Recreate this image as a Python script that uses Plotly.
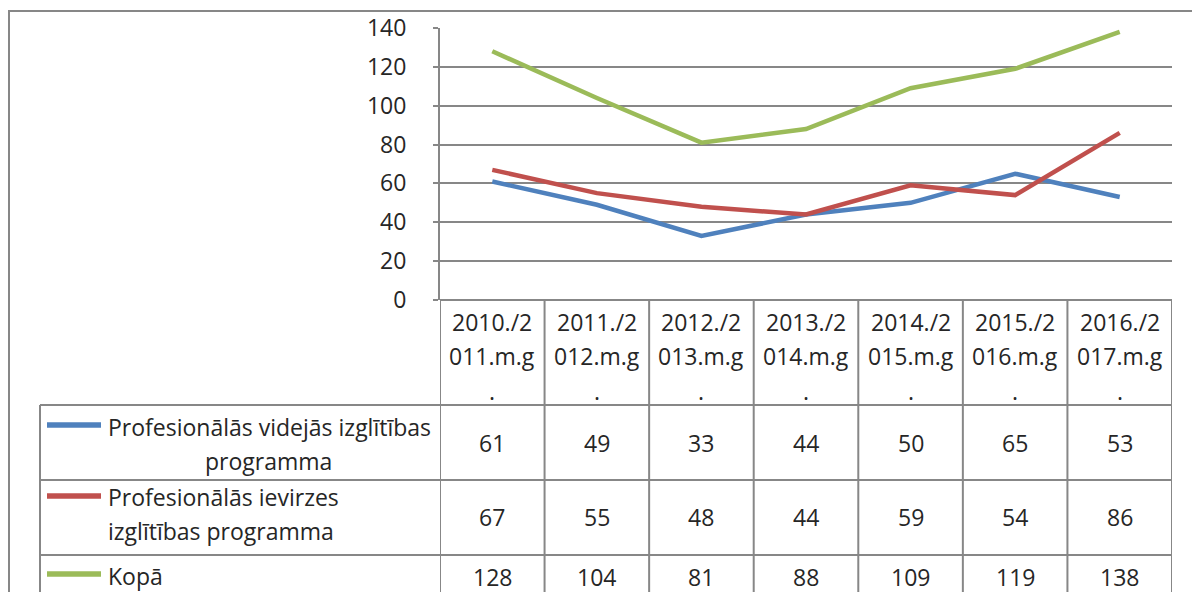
import plotly.graph_objects as go

W, H = 1200, 592

# Data
seasons = ["2010./2011.m.g.", "2011./2012.m.g.", "2012./2013.m.g.", "2013./2014.m.g.",
           "2014./2015.m.g.", "2015./2016.m.g.", "2016./2017.m.g."]
videjas = [61, 49, 33, 44, 50, 65, 53]
ievirzes = [67, 55, 48, 44, 59, 54, 86]
kopa = [128, 104, 81, 88, 109, 119, 138]
y_ticks = [0, 20, 40, 60, 80, 100, 120, 140]

series = [
    ("Profesionālās videjās izglītības", "programma", videjas, "#4F81BD"),
    ("Profesionālās ievirzes", "izglītības programma", ievirzes, "#C0504D"),
    ("Kopā", "", kopa, "#9BBB59"),
]

FONT = "Open Sans, sans-serif"
FS = 23
GRID = "#878787"
TXT = "#262626"

# the page adds an 8px body margin, so pixel positions below are
# screen positions shifted back by that amount
OFF = 8


def py(y):
    return max(0.0, min(1.0, 1 - (y - OFF) / H))


def px(x):
    return max(0.0, min(1.0, (x - OFF) / W))


x_idx = list(range(len(seasons)))

fig = go.Figure()
for name, _, vals, color in series:
    fig.add_trace(go.Scatter(
        x=x_idx, y=vals, mode="lines", name=name,
        line=dict(color=color, width=4.5), showlegend=False,
        hoverinfo="x+y",
    ))

shapes = []
annotations = []


def line(x0, y0, x1, y1, xref="paper", color=GRID, width=2):
    shapes.append(dict(type="line", xref=xref, yref="paper", x0=x0, x1=x1,
                       y0=y0, y1=y1, line=dict(color=color, width=width)))


# outer chart border (cut by the image on right and bottom)
line(px(8), py(11), 1, py(11))
line(px(9), py(11), px(9), 0)

# data table
header_top = 300
row_tops = [405, 480, 555]

line(-0.5, py(header_top), len(seasons) - 0.5, py(header_top), xref="x")
for top in row_tops:
    line(px(40), py(top), px(1172), py(top))
for i in range(len(seasons) + 1):
    line(i - 0.5, py(header_top), i - 0.5, 0, xref="x")
line(px(40), py(405), px(40), 0)

# header labels (wrapped like the original cells)
for i, s in enumerate(seasons):
    parts = [s[:7], s[7:14], s[14:]]
    for part, yy in zip(parts, [322, 356, 391]):
        annotations.append(dict(x=i, y=py(yy), xref="x", yref="paper", text=part,
                                showarrow=False, xanchor="center", yanchor="middle",
                                font=dict(family=FONT, size=FS, color=TXT)))

# rows: legend key, label and values
label_lines = [
    [(106, 427, "left"), (268, 461, "center")],
    [(106, 497, "left"), (106, 531, "left")],
    [(106, 576, "left")],
]
value_y = [443, 517, 577]
key_y = [425, 496, 574]
for k, (l1, l2, vals, color) in enumerate(series):
    line(px(47), py(key_y[k]), px(101), py(key_y[k]), color=color, width=5.5)
    for (lx, ly, anc), txt in zip(label_lines[k], [l1, l2]):
        if not txt:
            continue
        annotations.append(dict(x=px(lx), y=py(ly), xref="paper", yref="paper", text=txt,
                                showarrow=False, xanchor=anc, yanchor="middle",
                                font=dict(family=FONT, size=FS, color=TXT)))
    for i, v in enumerate(vals):
        annotations.append(dict(x=i, y=py(value_y[k]), xref="x", yref="paper", text=str(v),
                                showarrow=False, xanchor="center", yanchor="middle",
                                font=dict(family=FONT, size=FS, color=TXT)))

fig.update_layout(
    width=W, height=H,
    margin=dict(l=0, r=0, t=0, b=0, autoexpand=False),
    paper_bgcolor="white", plot_bgcolor="white",
    font=dict(family=FONT, size=FS, color=TXT),
    shapes=shapes,
    annotations=annotations,
    xaxis=dict(
        domain=[px(440), px(1172)], range=[-0.5, len(seasons) - 0.5],
        showticklabels=False, showgrid=False, zeroline=False, ticks="",
        showline=False, automargin=False,
    ),
    yaxis=dict(
        domain=[py(300), py(28)], range=[0, 140], tickvals=y_ticks,
        showgrid=True, gridcolor=GRID, gridwidth=2, zeroline=False,
        showline=True, linecolor=GRID, linewidth=2,
        ticks="outside", ticklen=5, tickcolor=GRID, tickwidth=2,
        ticklabelstandoff=22, automargin=False,
        tickfont=dict(family=FONT, size=FS, color=TXT),
    ),
)

fig.write_html("out.html")
